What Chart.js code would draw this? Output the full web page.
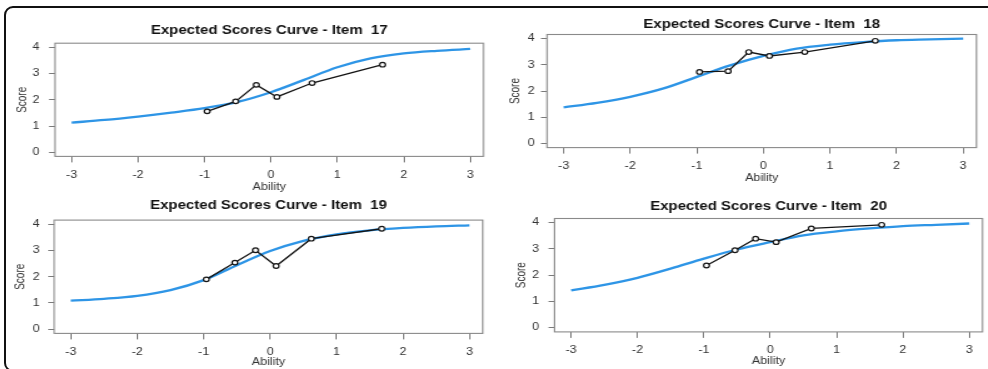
<!DOCTYPE html>
<html>
<head>
<meta charset="utf-8">
<script src="https://cdn.jsdelivr.net/npm/chart.js@4.4.1/dist/chart.umd.min.js"></script>
<style>
html,body{margin:0;padding:0;background:#fff;overflow:hidden;width:988px;height:369px;}
.frame{position:absolute;left:4px;top:6px;width:1100px;height:366px;border:2px solid #111;border-radius:9px;box-sizing:border-box;}
.panel{position:absolute;transform-origin:0 0;}
.panel canvas{display:block;}
</style>
</head>
<body>
<div class="frame"></div>
<div class="panel" id="p0"><canvas id="c0"></canvas></div>
<div class="panel" id="p1"><canvas id="c1"></canvas></div>
<div class="panel" id="p2"><canvas id="c2"></canvas></div>
<div class="panel" id="p3"><canvas id="c3"></canvas></div>
<script>
// ---------- data ----------
const itemNumbers = [17, 18, 19, 20];
const abilityGrid = [-3, -2.5, -2, -1.5, -1, -0.5, 0, 0.5, 1, 1.5, 2, 2.5, 3];
const expected17 = [1.13, 1.23, 1.36, 1.51, 1.68, 1.92, 2.29, 2.76, 3.24, 3.58, 3.77, 3.87, 3.94];
const expected18 = [1.38, 1.55, 1.78, 2.10, 2.54, 2.98, 3.34, 3.62, 3.77, 3.87, 3.94, 3.97, 4.00];
const expected19 = [1.09, 1.16, 1.27, 1.49, 1.87, 2.44, 2.98, 3.37, 3.62, 3.77, 3.86, 3.92, 3.96];
const expected20 = [1.42, 1.63, 1.90, 2.25, 2.63, 2.98, 3.26, 3.52, 3.67, 3.78, 3.87, 3.92, 3.97];
const observedAbility = [-0.96, -0.53, -0.22, 0.09, 0.62, 1.68];
const observed17 = [1.56, 1.94, 2.57, 2.11, 2.64, 3.34];
const observed18 = [2.73, 2.76, 3.49, 3.34, 3.49, 3.92];
const observed19 = [1.90, 2.54, 3.01, 2.41, 3.45, 3.83];
const observed20 = [2.37, 2.95, 3.39, 3.26, 3.78, 3.92];
const xTickValues = [-3, -2, -1, 0, 1, 2, 3];
const yTickValues = [0, 1, 2, 3, 4];
const titlePrefix = 'Expected Scores Curve - Item  ';
const xAxisTitle = 'Ability';
const yAxisTitle = 'Score';

const expectedSeries = [expected17, expected18, expected19, expected20];
const observedSeries = [observed17, observed18, observed19, observed20];

// ---------- layout (screen px) ----------
const stretch = 1.25;
const layouts = [
  {l:55,    t:43.2,  r:483.5, b:156.4, titleCy:30.5,  scoreCx:22.5, abilityCy:186.5, yGap:15.5},
  {l:547,   t:34.5,  r:976.5, b:147.6, titleCy:24.3,  scoreCx:515.5, abilityCy:177.5, yGap:12.5},
  {l:54.2,  t:220.1, r:483.5, b:333.4, titleCy:205.5, scoreCx:20.5, abilityCy:362, yGap:14.5},
  {l:554.5, t:218.5, r:983.3, b:331.9, titleCy:206.7, scoreCx:521, abilityCy:360.5, yGap:15.5}
];
const titleFontSize = 12, titleLH = titleFontSize * 1.2;
const axisFontSize = 10, axisLH = axisFontSize * 1.2;

const boxPlugin = {
  id: 'plotBox',
  afterDatasetsDraw(chart) {
    const a = chart.chartArea, ctx = chart.ctx;
    ctx.save();
    ctx.strokeStyle = '#8a8a8a';
    ctx.lineWidth = 1.1;
    ctx.strokeRect(a.left, a.top, a.right - a.left, a.bottom - a.top);
    ctx.restore();
  }
};

function makePanel(i) {
  const L = layouts[i];
  const Lc = Math.round(L.scoreCx - (axisLH / 2) * stretch);
  const Tc = Math.round(L.titleCy - titleLH / 2);
  const Wu = Math.ceil((L.r - Lc) / stretch + 4.5);
  const Hc = Math.round(L.abilityCy + axisLH / 2 - Tc);
  const yW = (L.l - Lc) / stretch;
  const padR = Wu - (L.r - Lc) / stretch;
  const titlePadTop = L.titleCy - titleLH / 2 - Tc;
  const titlePadBottom = L.t - L.titleCy - titleLH / 2;
  const xH = Tc + Hc - L.b;

  const div = document.getElementById('p' + i);
  div.style.left = Lc + 'px';
  div.style.top = Tc + 'px';
  div.style.width = Wu + 'px';
  div.style.height = Hc + 'px';
  div.style.transform = 'scaleX(' + stretch + ')';
  const canvas = document.getElementById('c' + i);
  canvas.width = Wu;
  canvas.height = Hc;
  canvas.style.width = Wu + 'px';
  canvas.style.height = Hc + 'px';

  const yTickLen = 6 / stretch;
  const yPad = (L.yGap - 6) / stretch;

  new Chart(canvas, {
    type: 'line',
    data: {
      datasets: [
        {
          label: 'Observed',
          data: observedAbility.map((x, k) => ({x: x, y: observedSeries[i][k]})),
          borderColor: '#151515',
          borderWidth: 1.3,
          pointRadius: 2.3,
          pointBorderWidth: 1.2,
          pointBorderColor: '#151515',
          pointBackgroundColor: '#ffffff',
          tension: 0,
          order: 0
        },
        {
          label: 'Expected',
          data: abilityGrid.map((x, k) => ({x: x, y: expectedSeries[i][k]})),
          borderColor: '#2e95e6',
          borderWidth: 2.3,
          pointRadius: 0,
          cubicInterpolationMode: 'monotone',
          order: 1
        }
      ]
    },
    options: {
      responsive: false,
      maintainAspectRatio: false,
      animation: false,
      devicePixelRatio: 1,
      layout: {padding: {left: 0, top: 0, right: padR, bottom: 0}},
      plugins: {
        legend: {display: false},
        tooltip: {enabled: false},
        title: {
          display: true,
          fullSize: false,
          text: titlePrefix + itemNumbers[i],
          color: '#111',
          font: {family: 'Liberation Sans, Arial, sans-serif', size: titleFontSize, weight: 'bold', lineHeight: 1.2},
          padding: {top: titlePadTop, bottom: titlePadBottom}
        }
      },
      scales: {
        x: {
          type: 'linear',
          min: -3.25,
          max: 3.2,
          afterBuildTicks: s => { s.ticks = xTickValues.map(v => ({value: v})); },
          afterFit: s => { s.height = xH; s.paddingLeft = 0; s.paddingRight = 0; },
          grid: {display: true, drawOnChartArea: false, drawTicks: true, tickLength: 6, color: '#7a7a7a', lineWidth: 1},
          border: {display: false},
          ticks: {
            color: '#333',
            padding: 6.5,
            maxRotation: 0,
            autoSkip: false,
            font: {family: 'Liberation Sans, Arial, sans-serif', size: axisFontSize},
            callback: v => String(v)
          },
          title: {
            display: true,
            text: xAxisTitle,
            color: '#333',
            padding: 0,
            font: {family: 'Liberation Sans, Arial, sans-serif', size: axisFontSize, lineHeight: 1.2}
          }
        },
        y: {
          type: 'linear',
          min: -0.16,
          max: 4.16,
          afterBuildTicks: s => { s.ticks = yTickValues.map(v => ({value: v})); },
          afterFit: s => { s.width = yW; },
          grid: {display: true, drawOnChartArea: false, drawTicks: true, tickLength: yTickLen, color: '#7a7a7a', lineWidth: 1},
          border: {display: false},
          ticks: {
            color: '#333',
            padding: yPad,
            autoSkip: false,
            font: {family: 'Liberation Sans, Arial, sans-serif', size: axisFontSize},
            callback: v => String(v)
          },
          title: {
            display: true,
            text: yAxisTitle,
            color: '#333',
            padding: 0,
            font: {family: 'Liberation Sans, Arial, sans-serif', size: axisFontSize, lineHeight: 1.2}
          }
        }
      }
    },
    plugins: [boxPlugin]
  });
}

for (let i = 0; i < 4; i++) makePanel(i);
</script>
</body>
</html>
